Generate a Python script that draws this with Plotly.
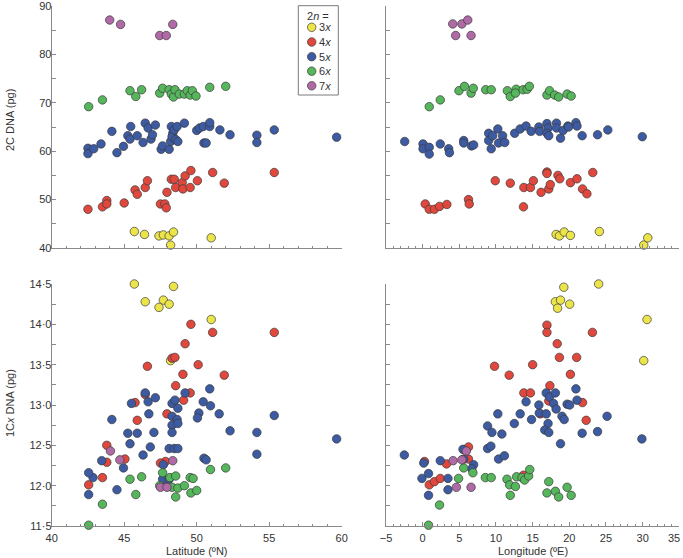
import plotly.graph_objects as go

# ---------------- data ----------------
PLOIDY = ["3x", "4x", "5x", "6x", "7x"]
LEGEND_NAMES = ["3<i>x</i>", "4<i>x</i>", "5<i>x</i>", "6<i>x</i>", "7<i>x</i>"]
LEGEND_TITLE = "2<i>n</i> ="
COLORS = ["#ece54a", "#e0483e", "#3d5ba3", "#56b65b", "#b06aa6"]

# Panel A: latitude (°N) vs 2C DNA (pg)
A_3x = [(45.7, 43.4), (46.4, 42.8), (47.4, 42.5), (47.7, 42.7), (48.1, 42.5), (48.4, 43.3), (48.2, 40.6), (51.0, 42.1)]
A_4x = [(42.5, 48.0), (43.5, 48.5), (43.8, 49.8), (43.8, 49.1), (45.0, 49.3), (45.75, 52.0), (45.9, 51.1), (46.45, 52.5),
        (46.6, 53.9), (47.5, 49.1), (47.8, 49.1), (47.9, 48.3), (47.95, 51.5), (48.25, 54.2), (48.45, 54.2), (48.55, 52.5),
        (49.0, 53.5), (49.05, 52.2), (49.2, 54.9), (49.55, 52.5), (49.6, 56.0), (50.05, 53.9), (51.1, 55.6), (51.9, 53.4),
        (55.35, 55.6)]
A_5x = [(42.5, 60.6), (42.5, 59.5), (42.9, 60.5), (43.4, 61.5), (44.15, 64.1), (44.5, 59.7), (44.95, 61.0), (45.25, 63.2),
        (45.45, 65.1), (45.4, 62.5), (45.9, 63.2), (46.3, 61.8), (46.45, 65.8), (46.65, 64.8), (46.85, 62.5), (46.95, 63.4),
        (47.15, 65.4), (47.55, 60.4), (47.65, 61.1), (48.1, 60.4), (48.2, 62.0), (48.25, 65.1), (48.35, 63.7), (48.3, 63.0),
        (48.45, 64.4), (48.55, 62.4), (48.65, 65.1), (48.7, 62.0), (49.15, 65.8), (50.0, 64.3), (50.2, 64.8), (50.45, 65.1),
        (50.5, 61.7), (50.65, 61.7), (50.9, 65.1), (50.9, 65.9), (51.6, 64.4), (52.3, 63.4), (54.15, 63.3), (54.15, 61.8),
        (55.35, 64.4), (59.65, 62.9)]
A_6x = [(42.55, 69.2), (43.5, 70.6), (45.4, 72.5), (46.2, 72.7), (45.8, 71.3), (47.45, 72.0), (47.65, 73.0), (48.1, 72.7),
        (48.25, 71.8), (48.4, 71.2), (48.5, 72.7), (48.8, 71.8), (49.15, 71.8), (49.35, 72.5), (49.55, 71.6), (49.7, 72.5),
        (49.95, 71.4), (50.9, 73.2), (52.0, 73.4)]
A_7x = [(44.0, 87.1), (44.75, 86.2), (47.45, 83.9), (47.9, 83.9), (48.35, 86.2)]

# Panel B: longitude (°E) vs 2C DNA (pg)
B_3x = [(18.2, 42.8), (18.65, 42.5), (19.3, 43.3), (20.15, 42.6), (24.1, 43.4), (30.15, 40.6), (30.7, 42.1)]
B_4x = [(0.35, 49.1), (0.9, 48.0), (1.6, 48.0), (2.3, 48.6), (3.3, 49.0), (6.25, 50.0), (6.35, 49.1), (9.9, 53.9),
        (11.95, 53.4), (13.75, 48.5), (13.8, 52.5), (14.7, 52.5), (15.1, 53.9), (16.15, 51.5), (16.95, 55.7), (16.95, 55.4),
        (17.2, 52.2), (17.4, 53.1), (18.45, 55.0), (18.7, 54.3), (20.15, 53.5), (21.05, 54.3), (21.8, 52.2), (22.4, 51.2),
        (23.2, 55.6)]
B_5x = [(-2.45, 62.0), (0.05, 61.5), (0.05, 60.5), (0.9, 60.8), (0.9, 59.4), (2.4, 61.5), (3.55, 60.5), (3.65, 59.7),
        (5.6, 62.2), (5.6, 61.7), (6.65, 61.1), (6.95, 61.3), (9.0, 63.7), (9.0, 62.2), (9.55, 63.2), (9.35, 60.5),
        (10.25, 64.6), (10.35, 61.7), (10.9, 63.2), (11.2, 61.8), (12.55, 63.7), (13.3, 64.6), (14.1, 65.2), (14.8, 64.1),
        (15.85, 65.0), (15.95, 64.1), (16.95, 65.7), (17.1, 64.8), (16.95, 63.7), (17.2, 63.2), (18.25, 65.8), (18.25, 64.8),
        (18.8, 62.7), (19.15, 64.3), (19.8, 65.2), (19.9, 65.0), (20.9, 65.9), (21.05, 65.2), (21.75, 63.2), (23.85, 63.4),
        (25.25, 64.4), (29.95, 63.0)]
B_6x = [(0.9, 69.2), (2.4, 70.6), (4.95, 72.5), (5.7, 73.4), (6.6, 72.0), (6.9, 73.0), (8.6, 72.7), (9.35, 72.7),
        (11.55, 72.5), (11.95, 71.3), (12.75, 72.8), (12.65, 72.0), (13.7, 72.7), (14.25, 72.8), (14.55, 73.4),
        (16.95, 71.6), (17.3, 72.5), (18.0, 71.6), (18.55, 71.2), (19.7, 71.8), (20.25, 71.4)]
B_7x = [(4.1, 86.3), (5.35, 86.3), (6.15, 87.1), (4.5, 83.9), (6.6, 83.9)]

# Panel C: latitude (°N) vs 1Cx DNA (pg)
C_3x = [(45.7, 14.50), (46.45, 14.28), (47.7, 14.30), (47.4, 14.21), (48.1, 14.25), (48.4, 14.47), (51.0, 14.06), (48.2, 13.55)]
C_4x = [(49.6, 14.00), (51.1, 13.90), (49.2, 13.76), (48.3, 13.58), (48.5, 13.59), (46.6, 13.48), (50.1, 13.50),
        (49.05, 13.38), (51.9, 13.37), (48.55, 13.24), (49.55, 13.15), (49.1, 13.06), (45.75, 13.03), (47.95, 12.89),
        (45.9, 12.81), (43.8, 12.50), (43.8, 12.29), (45.05, 12.33), (43.5, 12.10), (42.55, 12.01), (47.85, 12.30),
        (46.45, 13.13), (47.5, 12.28), (47.9, 12.07), (55.35, 13.90)]
C_5x = [(45.5, 13.02), (46.45, 13.15), (46.65, 13.04), (47.15, 13.09), (48.3, 13.02), (48.5, 13.06), (48.7, 12.96),
        (49.2, 13.15), (50.45, 13.04), (50.9, 13.20), (50.95, 12.99), (46.7, 12.89), (48.3, 12.86), (48.65, 12.82),
        (48.3, 12.75), (48.7, 12.77), (48.3, 12.66), (50.15, 12.90), (50.05, 12.84), (51.55, 12.89), (52.3, 12.68),
        (44.15, 12.82), (45.25, 12.65), (45.9, 12.65), (47.05, 12.66), (45.4, 12.52), (46.8, 12.48), (48.1, 12.46),
        (48.45, 12.46), (48.7, 12.46), (46.3, 12.38), (47.7, 12.26), (50.5, 12.34), (50.65, 12.32), (43.45, 12.31),
        (42.85, 12.10), (42.55, 12.16), (44.95, 12.22), (42.55, 11.89), (44.5, 11.95), (47.65, 12.08), (48.1, 12.08),
        (54.15, 12.66), (54.15, 12.39), (55.35, 12.87), (59.65, 12.58)]
C_6x = [(42.55, 11.51), (43.5, 11.77), (45.4, 12.08), (45.8, 11.89), (46.2, 12.11), (47.45, 12.0), (47.65, 12.16),
        (48.15, 12.10), (48.55, 12.12), (48.3, 11.98), (48.7, 11.97), (48.55, 11.86), (49.15, 12.0), (49.55, 12.10),
        (49.75, 12.09), (49.6, 11.91), (50.0, 11.94), (50.95, 12.2), (52.0, 12.22)]
C_7x = [(44.05, 12.43), (44.7, 12.32), (47.5, 11.98), (47.95, 11.98), (48.35, 12.31)]

# Panel D: longitude (°E) vs 1Cx DNA (pg)
D_3x = [(19.25, 14.46), (24.0, 14.50), (18.1, 14.28), (18.8, 14.30), (18.4, 14.20), (20.05, 14.25), (30.6, 14.06), (30.15, 13.55)]
D_4x = [(16.95, 13.99), (16.95, 13.90), (23.15, 13.90), (18.35, 13.76), (18.65, 13.59), (21.0, 13.59), (9.8, 13.48),
        (15.0, 13.50), (11.8, 13.37), (20.15, 13.38), (17.35, 13.24), (13.8, 13.15), (14.7, 13.15), (21.8, 13.03),
        (17.2, 13.05), (16.05, 12.89), (22.3, 12.81), (0.25, 12.30), (0.9, 12.01), (1.6, 12.05), (2.4, 12.09),
        (3.25, 12.27), (6.25, 12.48), (6.25, 12.33), (13.75, 12.13)]
D_5x = [(-2.5, 12.38), (0.15, 12.28), (-0.1, 12.09), (0.8, 12.15), (0.8, 11.88), (2.4, 12.31), (3.45, 12.09), (3.45, 11.95),
        (5.5, 12.45), (5.6, 12.33), (6.95, 12.26), (6.7, 12.21), (8.85, 12.74), (9.45, 12.66), (8.85, 12.46), (9.3, 12.49),
        (10.25, 12.89), (10.8, 12.64), (10.35, 12.33), (11.15, 12.37), (12.5, 12.77), (13.3, 12.89), (14.1, 13.04),
        (14.85, 12.82), (15.85, 13.0), (15.9, 12.90), (16.85, 13.15), (17.3, 13.10), (18.1, 13.15), (17.85, 13.02),
        (18.2, 12.95), (16.85, 12.89), (17.1, 12.77), (16.65, 12.69), (17.2, 12.66), (19.0, 12.86), (19.3, 12.82),
        (18.8, 12.52), (19.7, 13.01), (20.05, 13.0), (20.9, 13.20), (21.05, 13.06), (21.75, 12.65), (23.85, 12.67),
        (25.15, 12.86), (29.9, 12.58)]
D_6x = [(0.8, 11.51), (2.3, 11.76), (4.9, 12.09), (5.6, 12.22), (6.85, 12.16), (8.55, 12.10), (9.35, 12.10), (11.5, 12.08),
        (11.85, 12.01), (11.95, 11.88), (12.65, 11.99), (12.8, 12.11), (13.55, 12.10), (13.9, 12.07), (14.45, 12.12),
        (14.6, 12.2), (17.2, 12.05), (16.95, 11.91), (18.1, 11.93), (18.55, 11.86), (19.7, 11.98), (20.25, 11.88)]
D_7x = [(4.15, 12.31), (5.35, 12.32), (5.95, 12.43), (4.6, 11.98), (6.6, 11.98)]

PANELS = [
    ("x", "y", [A_3x, A_4x, A_5x, A_6x, A_7x]),
    ("x2", "y2", [B_3x, B_4x, B_5x, B_6x, B_7x]),
    ("x3", "y3", [C_3x, C_4x, C_5x, C_6x, C_7x]),
    ("x4", "y4", [D_3x, D_4x, D_5x, D_6x, D_7x]),
]

LAT_TICKS = [40, 45, 50, 55, 60]
LON_TICKS = [-5, 0, 5, 10, 15, 20, 25, 30, 35]
# the last longitude label ("35") sits at the window edge; it is drawn as its own text just inside
LON_TICK_LABELS = ["\u22125", "0", "5", "10", "15", "20", "25", "30", ""]
LON_LAST_LABEL = "35"
DNA2C_TICKS = [40, 50, 60, 70, 80, 90]
DNA1CX_TICKS = [11.5, 12.0, 12.5, 13.0, 13.5, 14.0, 14.5]

# ---------------- figure ----------------
W, H = 683, 558
FONT = "Liberation Sans, Arial, Helvetica, sans-serif"
TXT = "#333333"
AXC = "#8a8a8a"
EDGE = "#3a3a3a"
MSIZE = 8.5

fig = go.Figure()
for pi, (xa, ya, series) in enumerate(PANELS):
    for k, pts in enumerate(series):
        fig.add_trace(go.Scatter(
            x=[p[0] for p in pts], y=[p[1] for p in pts],
            mode="markers", xaxis=xa, yaxis=ya,
            name=PLOIDY[k], legendgroup=PLOIDY[k], showlegend=False,
            marker=dict(size=MSIZE, color=COLORS[k], line=dict(width=0.7, color=EDGE)),
            cliponaxis=False, hoverinfo="x+y",
        ))

def px_x(a, b):
    return [a / W, b / W]

def px_y(top, bottom):
    return [1 - bottom / H, 1 - top / H]

def axis_style(**kw):
    d = dict(showline=True, linecolor=AXC, linewidth=1, mirror=False,
             ticks="inside", ticklen=4, tickwidth=1, tickcolor=AXC,
             showgrid=False, zeroline=False, automargin=False,
             ticklabeloverflow="allow",
             tickfont=dict(family=FONT, size=11, color=TXT))
    d.update(kw)
    return d

LX = px_x(51.7, 341.7)
RX = px_x(386.0, 679.3)
TY = px_y(6.0, 248.0)
BY = px_y(284.0, 526.0)

minor_x = dict(ticks="inside", ticklen=2.5, tickwidth=1, tickcolor=AXC, dtick=1, showgrid=False)

fig.update_layout(
    width=W, height=H,
    margin=dict(l=0, r=0, t=0, b=0),
    paper_bgcolor="white", plot_bgcolor="white",
    separators="\u00b7,",
    font=dict(family=FONT, size=11, color=TXT),
    showlegend=False,
    xaxis=axis_style(domain=LX, anchor="y", range=[40, 60], tickvals=LAT_TICKS, showticklabels=False, minor=minor_x),
    yaxis=axis_style(domain=TY, anchor="x", range=[40, 90], tickvals=DNA2C_TICKS,
                     minor=dict(ticks="inside", ticklen=4, tickcolor=AXC, dtick=5), ticklabelstandoff=-3),
    xaxis2=axis_style(domain=RX, anchor="y2", range=[-5, 35], tickvals=LON_TICKS, showticklabels=False, minor=minor_x),
    yaxis2=axis_style(domain=TY, anchor="x2", range=[40, 90], tickvals=DNA2C_TICKS, showticklabels=False,
                      minor=dict(ticks="inside", ticklen=4, tickcolor=AXC, dtick=5)),
    xaxis3=axis_style(domain=LX, anchor="y3", range=[40, 60], tickvals=LAT_TICKS, minor=minor_x, ticklabelstandoff=2),
    yaxis3=axis_style(domain=BY, anchor="x3", range=[11.5, 14.5], tickvals=DNA1CX_TICKS, tickformat=".1f",
                      minor=dict(ticks="inside", ticklen=4, tickcolor=AXC, dtick=0.25), ticklabelstandoff=-3),
    xaxis4=axis_style(domain=RX, anchor="y4", range=[-5, 35], tickvals=LON_TICKS, ticktext=LON_TICK_LABELS,
                      minor=minor_x, ticklabelstandoff=2),
    yaxis4=axis_style(domain=BY, anchor="x4", range=[11.5, 14.5], tickvals=DNA1CX_TICKS, showticklabels=False,
                      minor=dict(ticks="inside", ticklen=4, tickcolor=AXC, dtick=0.25)),
)

title_font = dict(family=FONT, size=11, color=TXT)
fig.add_annotation(text="2C DNA (pg)", xref="paper", yref="paper", x=10 / W, y=1 - 120 / H,
                   textangle=-90, showarrow=False, font=title_font, xanchor="center", yanchor="middle")
fig.add_annotation(text="1C<i>x</i> DNA (pg)", xref="paper", yref="paper", x=10 / W, y=1 - 403 / H,
                   textangle=-90, showarrow=False, font=title_font, xanchor="center", yanchor="middle")
fig.add_annotation(text="Latitude (ºN)", xref="paper", yref="paper", x=196.7 / W, y=1 - 550.5 / H,
                   showarrow=False, font=title_font, xanchor="center", yanchor="middle")
fig.add_annotation(text="Longitude (ºE)", xref="paper", yref="paper", x=532.6 / W, y=1 - 550.5 / H,
                   showarrow=False, font=title_font, xanchor="center", yanchor="middle")
fig.add_annotation(text=LON_LAST_LABEL, xref="paper", yref="paper", x=682 / W, y=1 - 538 / H,
                   showarrow=False, font=title_font, xanchor="right", yanchor="middle")

# ---------------- compact legend box (as in the reference) ----------------
LEG_LEFT, LEG_RIGHT, LEG_TOP, LEG_BOTTOM = 298.3, 338.3, 5.7, 95.0
LEG_ROW_Y = [27.3, 42.0, 56.7, 71.2, 85.8]
fig.add_shape(type="rect", xref="paper", yref="paper",
              x0=LEG_LEFT / W, x1=LEG_RIGHT / W, y0=1 - LEG_BOTTOM / H, y1=1 - LEG_TOP / H,
              line=dict(color="#7a7a7a", width=1), fillcolor="white", layer="above")
fig.add_annotation(text=LEGEND_TITLE, xref="paper", yref="paper", x=317.5 / W, y=1 - 15.5 / H,
                   showarrow=False, font=title_font, xanchor="center", yanchor="middle")
for k in range(len(PLOIDY)):
    yy = 1 - LEG_ROW_Y[k] / H
    fig.add_shape(type="circle", xref="paper", yref="paper",
                  xsizemode="pixel", ysizemode="pixel",
                  xanchor=311.7 / W, yanchor=yy,
                  x0=-MSIZE / 2, x1=MSIZE / 2, y0=-MSIZE / 2, y1=MSIZE / 2,
                  fillcolor=COLORS[k], line=dict(color=EDGE, width=0.7), layer="above")
    fig.add_annotation(text=LEGEND_NAMES[k], xref="paper", yref="paper", x=316.5 / W, y=yy,
                       showarrow=False, font=title_font, xanchor="left", yanchor="middle")

# the page body has a default 8px margin; remove it so the 683x558 figure fills the window exactly
fig.write_html("out.html", config={"displayModeBar": False},
               post_script="document.body.style.margin='0px';")
